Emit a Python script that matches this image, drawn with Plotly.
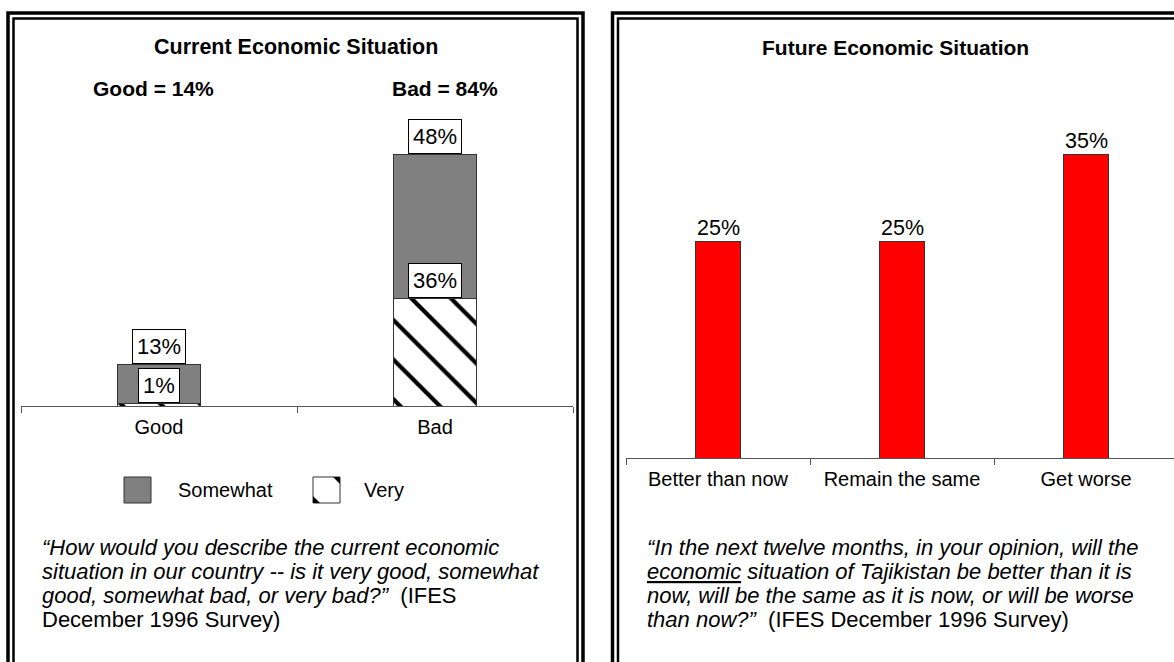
import plotly.graph_objects as go

W, H = 1174, 662
FONT = "Arial, 'Liberation Sans', sans-serif"

# Current economic situation (percent of respondents)
cur_categories = ["Good", "Bad"]
cur_very = [1, 36]
cur_somewhat = [13, 48]

# Future economic situation (percent of respondents)
fut_categories = ["Better than now", "Remain the same", "Get worse"]
fut_values = [25, 25, 35]

cur_question = [
    "<i>“How would you describe the current economic</i>",
    "<i>situation in our country -- is it very good, somewhat</i>",
    "<i>good, somewhat bad, or very bad?”</i>  (IFES",
    "December 1996 Survey)",
]
fut_question = [
    "<i>“In the next twelve months, in your opinion, will the</i>",
    "<i><u>economic</u> situation of Tajikistan be better than it is</i>",
    "<i>now, will be the same as it is now, or will be worse</i>",
    "<i>than now?”</i>  (IFES December 1996 Survey)",
]


def px(x):
    return x / W


def py(y):
    return 1 - y / H


def font(size):
    return dict(family=FONT, size=size, color="black")


fig = go.Figure()

fig.add_trace(go.Bar(
    x=cur_categories, y=cur_very, name="Very", width=0.3,
    marker=dict(color="white",
                pattern=dict(shape="\\", fgcolor="black", bgcolor="white",
                             fgopacity=1, size=28, solidity=0.15),
                line=dict(color="#333333", width=1)),
    xaxis="x", yaxis="y", hoverinfo="skip",
))
fig.add_trace(go.Bar(
    x=cur_categories, y=cur_somewhat, name="Somewhat", width=0.3,
    marker=dict(color="#808080", line=dict(color="#333333", width=1)),
    xaxis="x", yaxis="y", hoverinfo="skip",
))
fig.add_trace(go.Bar(
    x=fut_categories, y=fut_values, width=0.24,
    marker=dict(color="#ff0000", line=dict(color="#333333", width=1)),
    xaxis="x2", yaxis="y2", hoverinfo="skip",
))

ann = []
box = dict(bgcolor="white", bordercolor="black", borderwidth=1, borderpad=4,
           showarrow=False, xanchor="center", yanchor="bottom", font=font(22))

# boxed value labels on the stacked bars
for c, v, s in zip(cur_categories, cur_very, cur_somewhat):
    ann.append(dict(x=c, y=v, xref="x", yref="y", text=f"{v}%", **box))
    ann.append(dict(x=c, y=v + s, xref="x", yref="y", text=f"{s}%", **box))


def paper_text(x, y, text, size, xanchor="center"):
    ann.append(dict(x=px(x), y=py(y), xref="paper", yref="paper", showarrow=False,
                    xanchor=xanchor, yanchor="middle", text=text, font=font(size)))


# totals above the left chart
for c, v, s, xc in zip(cur_categories, cur_very, cur_somewhat, [153, 445]):
    paper_text(xc, 88, f"<b>{c} = {v + s}%</b>", 21)

# value labels on the red bars
for c, v in zip(fut_categories, fut_values):
    ann.append(dict(x=c, y=v, xref="x2", yref="y2", text=f"{v}%", showarrow=False,
                    xanchor="center", yanchor="bottom", yshift=-1, font=font(21.5)))

# titles
paper_text(296, 47, "<b>Current Economic Situation</b>", 21.5)
paper_text(895, 47, "<b>Future Economic Situation</b>", 21)

# legend text
paper_text(176, 490, "Somewhat", 20, "left")
paper_text(362, 490, "Very", 20, "left")

# question wording
for i, line in enumerate(cur_question):
    paper_text(40, 547 + 24 * i, line, 22, "left")
for i, line in enumerate(fut_question):
    paper_text(645, 547 + 24 * i, line, 22, "left")

shapes = []


def frame(x0, x1, y0, lw):
    shapes.append(dict(type="rect", xref="paper", yref="paper",
                       x0=px(x0), x1=px(x1), y0=py(y0), y1=py(720),
                       line=dict(color="black", width=lw), fillcolor="rgba(0,0,0,0)", layer="above"))


# double frames around each panel
frame(8, 583, 13, 3.5)
frame(13.5, 577.5, 18.5, 2.5)
frame(612.5, 1190, 13, 3.5)
frame(618, 1184, 18.5, 2.5)

# legend swatches
shapes.append(dict(type="rect", xref="paper", yref="paper", x0=px(124), x1=px(151),
                   y0=py(477), y1=py(503), fillcolor="#808080", line=dict(color="#333333", width=1)))
shapes.append(dict(type="rect", xref="paper", yref="paper", x0=px(313), x1=px(340),
                   y0=py(477), y1=py(503), fillcolor="white", line=dict(color="#333333", width=1)))


def tri(pts):
    d = "M " + " L ".join(f"{px(a)},{py(b)}" for a, b in pts) + " Z"
    shapes.append(dict(type="path", xref="paper", yref="paper", path=d,
                       fillcolor="black", line=dict(color="black", width=0)))


tri([(333, 477), (340, 477), (340, 484)])
tri([(313, 496), (313, 503), (320, 503)])

axis_common = dict(type="category", showline=True, linecolor="#555555", linewidth=1,
                   ticks="outside", tickson="boundaries", ticklen=6, tickcolor="#555555",
                   tickfont=font(20), ticklabelstandoff=3,
                   showgrid=False, zeroline=False, fixedrange=True)

fig.update_layout(
    width=W, height=H, margin=dict(l=0, r=0, t=0, b=0),
    paper_bgcolor="white", plot_bgcolor="rgba(0,0,0,0)",
    barmode="stack", showlegend=False,
    xaxis=dict(domain=[px(21), px(573)], range=[-0.5, 1.5], anchor="y", **axis_common),
    yaxis=dict(domain=[py(406), py(106)], range=[0, 100], visible=False, fixedrange=True),
    xaxis2=dict(domain=[px(626), 1], range=[-0.5, 2.478], anchor="y2", **axis_common),
    yaxis2=dict(domain=[py(458), py(458 - 347.2)], range=[0, 40], visible=False, fixedrange=True),
    annotations=ann, shapes=shapes,
)

fig.write_html("out.html")
